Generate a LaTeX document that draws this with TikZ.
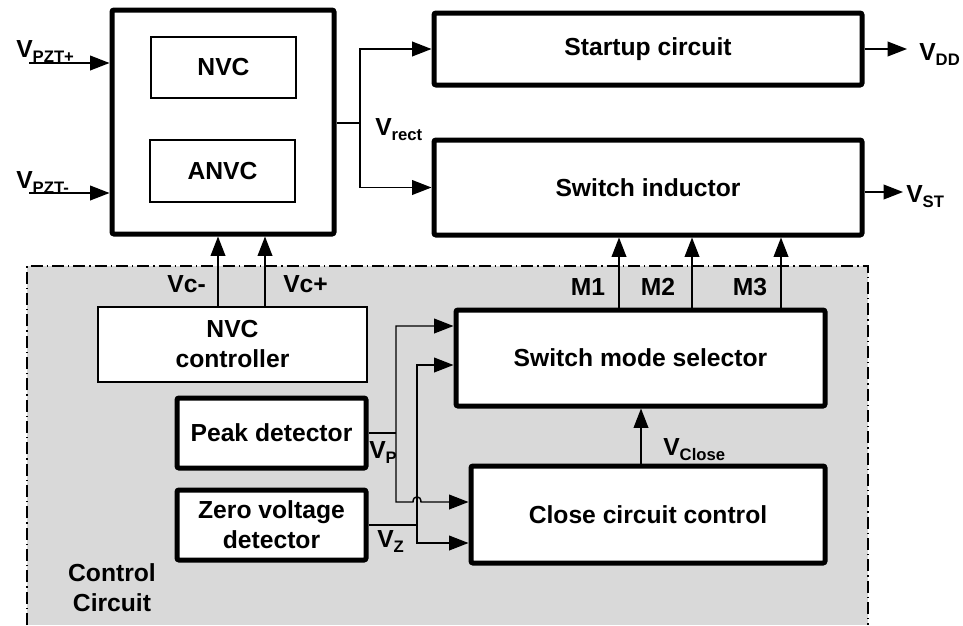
\documentclass[tikz,border=0pt]{standalone}
\usepackage{fontspec}
\setmainfont{Liberation Sans}
\usetikzlibrary{arrows.meta}
\newcommand{\sbs}[1]{\raisebox{-0.45ex}{\fontsize{12.5}{12.5}\selectfont #1}}
\definecolor{ctrlbg}{HTML}{D9D9D9}
\begin{document}
\begin{tikzpicture}[x=0.75pt,y=-0.75pt,
  font=\fontsize{18.5}{22.5}\selectfont\bfseries,
  blk/.style={draw, line width=3.75pt, rounded corners=1.5pt, fill=white, align=center, inner sep=0pt},
  tblk/.style={draw, line width=1.1pt, fill=white, align=center, inner sep=0pt},
  wire/.style={line width=1.1pt},
  arr/.style={wire, -{Triangle[length=14.5pt,width=11pt]}},
  barr/.style={wire, {Triangle[length=14.5pt,width=11pt]}-{Triangle[length=14.5pt,width=11pt]}},
  lbl/.style={inner sep=0pt},
  dashdot/.style={line width=1.1pt, dash pattern=on 9pt off 3pt on 1pt off 3pt}
]
\useasboundingbox (0,0) rectangle (963,625);
% control circuit region
\fill[ctrlbg] (27,266) rectangle (868,625);
\draw[dashdot] (27,625) -- (27,266) -- (868,266) -- (868,625);

% blocks
\node[blk, minimum width=166.5pt, minimum height=168pt] (big) at (223,122) {};
\node[tblk, minimum width=108.75pt, minimum height=45.75pt] (nvc) at (223.5,67.5) {NVC};
\node[tblk, minimum width=108.75pt, minimum height=46.5pt] (anvc) at (222.5,171) {ANVC};
\node[blk, minimum width=321pt, minimum height=54pt] (startup) at (648,49) {Startup circuit};
\node[blk, minimum width=321pt, minimum height=71.25pt] (ind) at (648,187.5) {Switch inductor};
\node[blk, minimum width=276.75pt, minimum height=72pt] (sel) at (640.5,358) {Switch mode selector};
\node[blk, minimum width=265.5pt, minimum height=72.75pt] (close) at (648,514.5) {Close circuit control};
\node[tblk, minimum width=201.75pt, minimum height=56.25pt] (ctrl) at (232.5,344.5) {NVC\\controller};
\node[blk, minimum width=141.75pt, minimum height=52.5pt] (peak) at (271.5,433) {Peak detector};
\node[blk, minimum width=141.75pt, minimum height=52.5pt] (zero) at (271.5,525) {Zero voltage\\detector};
\node[lbl, align=center] (cc) at (112,588) {Control\\Circuit};

% inputs
\coordinate (pztp) at (29,63);
\coordinate (pztm) at (29,193);
\draw[arr] (pztp) -- (pztp -| big.west);
\draw[arr] (pztm) -- (pztm -| big.west);
\node[lbl, anchor=base west] (lpztp) at (16,57) {V\sbs{PZT+}};
\node[lbl, anchor=base west] (lpztm) at (16,188) {V\sbs{PZT-}};

% rectifier output
\coordinate (jr) at (360,123);
\draw[wire] (jr -| big.east) -- (jr);
\draw[arr] (jr) |- (startup.west);
\draw[arr] (jr) |- (ind.west);
\node[lbl, anchor=base west] (lrect) at (375,135) {V\sbs{rect}};

% outputs
\coordinate (vdd) at (907,49);
\coordinate (vst) at (903,192);
\draw[arr] (startup.east) -- (vdd);
\draw[arr] (ind.east |- vst) -- (vst);
\node[lbl, anchor=base west] (lvdd) at (919,60) {V\sbs{DD}};
\node[lbl, anchor=base west] (lvst) at (906,202) {V\sbs{ST}};

% NVC controller outputs
\coordinate (vcm) at (218,290);
\coordinate (vcp) at (265,290);
\draw[arr] (ctrl.north -| vcm) -- (big.south -| vcm);
\draw[arr] (ctrl.north -| vcp) -- (big.south -| vcp);
\node[lbl, anchor=base east] (lvcm) at (206,292) {Vc-};
\node[lbl, anchor=base west] (lvcp) at (283,292) {Vc+};

% mode signals
\coordinate (m1) at (619,290);
\coordinate (m2) at (692,290);
\coordinate (m3) at (781,290);
\draw[arr] (sel.north -| m1) -- (ind.south -| m1);
\draw[arr] (sel.north -| m2) -- (ind.south -| m2);
\draw[arr] (sel.north -| m3) -- (ind.south -| m3);
\node[lbl, anchor=base] (lm1) at (588,295) {M1};
\node[lbl, anchor=base] (lm2) at (658,295) {M2};
\node[lbl, anchor=base] (lm3) at (750,295) {M3};

% V close
\coordinate (vcl) at (641,440);
\draw[arr] (close.north -| vcl) -- (sel.south -| vcl);
\node[lbl, anchor=base west] (lvcl) at (663,455) {V\sbs{Close}};

% V_P
\coordinate (pt) at (396,326);
\coordinate (pb) at (396,502);
\draw[wire] (peak.east) -- (peak.east -| pt);
\draw[barr] (sel.west |- pt) -- (pt) -- (pb) -- (413,502) .. controls (413,495) and (421,495) .. (421,502) -- (close.west |- pb);
\node[lbl, anchor=base west] (lvp) at (369,458) {V\sbs{P}};

% V_Z
\coordinate (zt) at (417,365);
\coordinate (zb) at (417,543);
\draw[wire] (zero.east) -- (zero.east -| zt);
\draw[barr] (sel.west |- zt) -- (zt) -- (zb) -- (close.west |- zb);
\node[lbl, anchor=base west] (lvz) at (377,547) {V\sbs{Z}};
\end{tikzpicture}
\end{document}
